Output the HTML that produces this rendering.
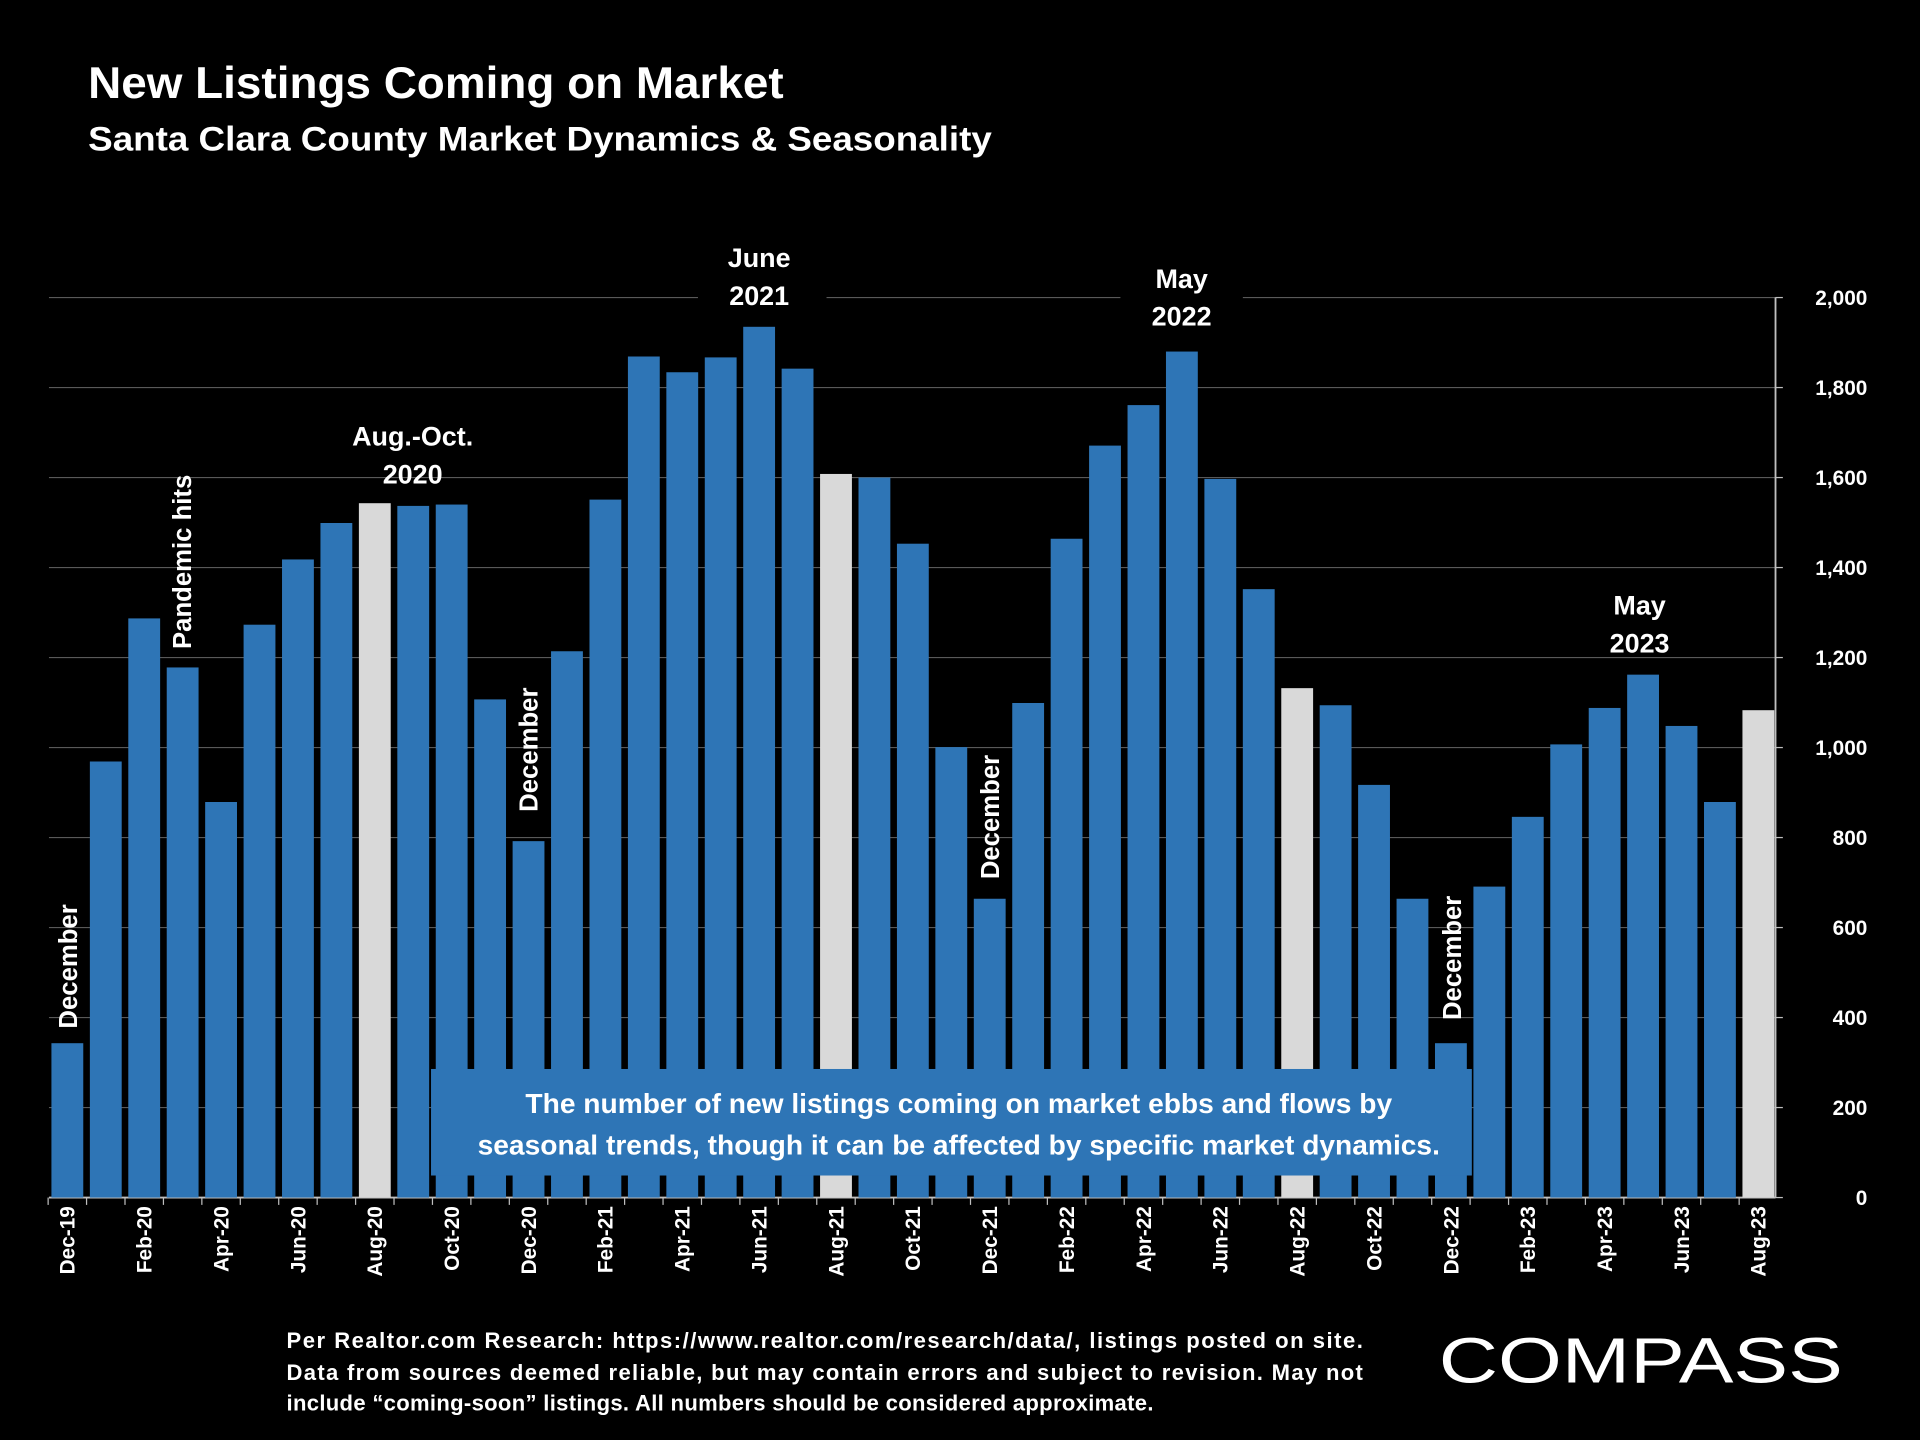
<!DOCTYPE html>
<html><head><meta charset="utf-8"><style>
html,body{margin:0;padding:0;background:#000;}
svg{display:block;font-family:"Liberation Sans",sans-serif;}
</style></head><body>
<svg id="chart" width="1920" height="1440" viewBox="0 0 1568 1176" xmlns="http://www.w3.org/2000/svg">
<rect width="1568" height="1176" fill="#000"/>
<text x="72" y="80" fill="#fff" font-weight="bold" font-size="36" textLength="568" lengthAdjust="spacingAndGlyphs">New Listings Coming on Market</text>
<text x="72" y="123" fill="#fff" font-weight="bold" font-size="28" textLength="738" lengthAdjust="spacingAndGlyphs">Santa Clara County Market Dynamics &amp; Seasonality</text>
<g id="grid"></g>
<g id="bars"></g>
<g id="yticks"></g>
<g id="xticks"></g>
<g id="notes"></g>
<g fill="#fff" font-weight="bold" font-size="18">
<text x="234" y="1101" textLength="879" lengthAdjust="spacing">Per Realtor.com Research:  https://www.realtor.com/research/data/, listings posted on site.</text>
<text x="234" y="1127" textLength="879" lengthAdjust="spacing">Data from sources deemed reliable, but may contain errors and subject to revision. May not</text>
<text x="234" y="1152" textLength="708" lengthAdjust="spacing">include “coming-soon” listings. All numbers should be considered approximate.</text>
</g>
<text x="1175" y="1129" fill="#fff" font-size="52" textLength="330" lengthAdjust="spacingAndGlyphs">COMPASS</text>
</svg>
<script>
const categories=["Dec-19","Jan-20","Feb-20","Mar-20","Apr-20","May-20","Jun-20","Jul-20","Aug-20","Sep-20","Oct-20","Nov-20","Dec-20","Jan-21","Feb-21","Mar-21","Apr-21","May-21","Jun-21","Jul-21","Aug-21","Sep-21","Oct-21","Nov-21","Dec-21","Jan-22","Feb-22","Mar-22","Apr-22","May-22","Jun-22","Jul-22","Aug-22","Sep-22","Oct-22","Nov-22","Dec-22","Jan-23","Feb-23","Mar-23","Apr-23","May-23","Jun-23","Jul-23","Aug-23"];
const listings=[343,969,1287,1178,879,1273,1418,1499,1543,1537,1540,1107,792,1214,1551,1869,1834,1867,1935,1842,1608,1600,1453,1001,664,1099,1464,1671,1761,1880,1597,1352,1132,1094,917,664,343,691,846,1007,1088,1162,1048,879,1083];
const highlighted=["Aug-20","Aug-21","Aug-22","Aug-23"];
const yTicks=[0,200,400,600,800,1000,1200,1400,1600,1800,2000];
const yTickLabels=["0","200","400","600","800","1,000","1,200","1,400","1,600","1,800","2,000"];

const NS="http://www.w3.org/2000/svg";
const y0=978,yTop=243,yMax=2000,x0=55,dx=(1436-55)/44,bw=26;
const yScale=v=>y0-(v/yMax)*(y0-yTop);
const xScale=i=>x0+i*dx;
function mk(tag,attrs,parent){const e=document.createElementNS(NS,tag);for(const k in attrs)e.setAttribute(k,attrs[k]);parent.appendChild(e);return e;}
const grid=document.getElementById('grid'),bars=document.getElementById('bars'),yt=document.getElementById('yticks'),xt=document.getElementById('xticks'),notes=document.getElementById('notes');
yTicks.forEach((v,i)=>{
  const l=mk('line',{x1:40,x2:1450,y1:yScale(v),y2:yScale(v),stroke:v===0?'#bfbfbf':'#595959','stroke-width':v===0?1.5:1},grid);
  
  
  mk('line',{x1:1450,x2:1456,y1:yScale(v),y2:yScale(v),stroke:'#bfbfbf'},grid);
  const t=mk('text',{x:1525,y:yScale(v)+6,fill:'#fff','font-size':17,'font-weight':'bold','text-anchor':'end'},yt);
  t.textContent=yTickLabels[i];
  
  
});
const ax=mk('line',{x1:1450,x2:1450,y1:yTop,y2:y0,stroke:'#bfbfbf','stroke-width':1.5},grid);


categories.forEach((c,i)=>{
  const x=xScale(i),v=listings[i];
  const r=mk('rect',{x:x-bw/2,y:yScale(v),width:bw,height:y0-yScale(v),fill:highlighted.includes(c)?'#d9d9d9':'#2e75b6'},bars);
  
  
  mk('line',{x1:x-dx/2,x2:x-dx/2,y1:y0,y2:y0+6,stroke:'#bfbfbf'},grid);
  if(i%2===0){
    const t=mk('text',{x:0,y:0,fill:'#fff','font-size':17,'font-weight':'bold','text-anchor':'end',transform:`translate(${x+6},985) rotate(-90)`},xt);
    t.textContent=c;
    
    
  }
});
// annotation box
const box=mk('rect',{x:352,y:873,width:850,height:87,fill:'#2e75b6'},notes);


[["The number of new listings coming on market ebbs and flows by",909],["seasonal trends, though it can be affected by specific market dynamics.",943]].forEach(a=>{
  const t=mk('text',{x:783,y:a[1],fill:'#fff','font-size':23,'font-weight':'bold','text-anchor':'middle'},notes);
  t.textContent=a[0];
  
  
});
// peak labels
[["June","2021",620,210,241,570,675],["May","2022",965,227,258,915,1015],["Aug.-Oct.","2020",337,356,387,280,395],["May","2023",1339,494,525,1295,1385]].forEach(p=>{
  if(p[3]<260){const b=mk('rect',{x:p[5],y:236,width:p[6]-p[5],height:14,fill:'#000'},notes);}
  const t1=mk('text',{x:p[2],y:p[3]+8,fill:'#fff','font-size':22,'font-weight':'bold','text-anchor':'middle'},notes);
  t1.textContent=p[0];
  
  
  const t2=mk('text',{x:p[2],y:p[4]+8,fill:'#fff','font-size':22,'font-weight':'bold','text-anchor':'middle'},notes);
  t2.textContent=p[1];
  
  
});
[["December",55,840],["Pandemic hits",148,530],["December",431,663],["December",808,718],["December",1185,833]].forEach(d=>{
  const t=mk('text',{x:0,y:0,fill:'#fff','font-size':21,'font-weight':'bold',transform:`translate(${d[1]+8},${d[2]}) rotate(-90)`},notes);
  t.textContent=d[0];
  
  
});
</script>
</body></html>
